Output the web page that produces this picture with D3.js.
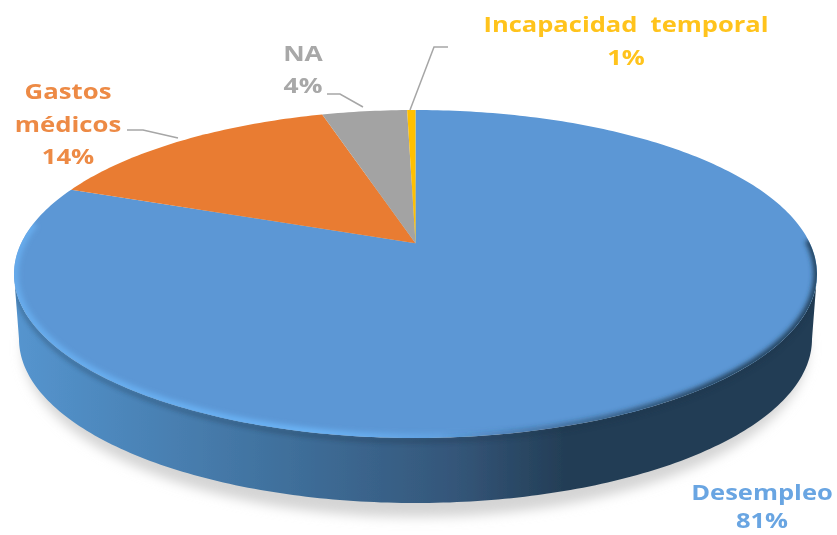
<!DOCTYPE html>
<html><head><meta charset="utf-8">
<script src="https://cdn.jsdelivr.net/npm/d3@7"></script>
<style>html,body{margin:0;padding:0;background:#fff}svg{display:block}
text{font-family:"Open Sans",sans-serif;font-weight:700;text-anchor:middle}</style></head>
<body><svg id="c" width="837" height="535"></svg>
<script>
const categories=["Desempleo","Gastos médicos","NA","Incapacidad  temporal"];
const sliceValues=[80.9,14.6,4.1,0.4];
const percentLabels=["81%","14%","4%","1%"];
const colors=["#5b97d5","#e97c30","#a3a3a3","#ffc000"];
const textColors=["#69a5e2","#ed8a45","#a8a8a8","#ffc31a"];
const tilt=0.187;

const svg=d3.select("#c"),defs=svg.append("defs");
const X=d3.scaleLinear().domain([-1,1]).range([14,817]);
const Y=d3.scaleLinear().domain([-1,1]).range([438,110]);
const pie=d3.pie().value(d=>d).sort(null).startAngle(0).endAngle(2*Math.PI);
const arcs=pie(sliceValues);

function project(a){
  const u=Math.sin(a),v=Math.cos(a),den=1+tilt*v;
  return [X(u*Math.sqrt(1-tilt*tilt)/den),Y((v+tilt)/den)];
}
const line=d3.line().curve(d3.curveLinear);
const apex=[X(0),Y(tilt)];
const slicePath=d=>{
  const n=Math.max(4,Math.ceil((d.endAngle-d.startAngle)*60));
  const pts=d3.range(n+1).map(i=>project(d.startAngle+(d.endAngle-d.startAngle)*i/n));
  return line([apex,...pts])+"Z";
};

const grad=defs.append("linearGradient").attr("id","side").attr("gradientUnits","userSpaceOnUse")
 .attr("x1",X(-1)).attr("x2",X(1)).attr("y1",0).attr("y2",0);
[[0,"#5595cf"],[0.17,"#4a82b5"],[0.36,"#3e6d98"],[0.55,"#345679"],[0.69,"#233d55"],[1,"#233d55"]]
 .forEach(s=>grad.append("stop").attr("offset",s[0]).attr("stop-color",s[1]));
const blur=(id,sd)=>defs.append("filter").attr("id",id).attr("filterUnits","userSpaceOnUse")
 .attr("x",-50).attr("y",-50).attr("width",937).attr("height",635)
 .append("feGaussianBlur").attr("stdDeviation",sd);
blur("shadow",6);blur("soft",2.4);blur("tx",0.6);blur("edge",0.5);

const ell=(g,cy,ry,rx,fill)=>g.append("ellipse").attr("cx",X(0)).attr("cy",cy).attr("rx",rx).attr("ry",ry).attr("fill",fill);
const topCy=Y(0),topRy=Y(-1)-Y(0),topRx=X(1)-X(0);
const depth=65,botRx=topRx-5;
ell(svg.append("g").attr("filter","url(#shadow)"),topCy+depth+9,topRy+5,botRx-4,"#d4d4d4");
const wall=d3.range(0,181).map(i=>{const t=Math.PI*i/180;return [X(0)+topRx*Math.cos(t),topCy+topRy*Math.sin(t)];})
 .concat(d3.range(180,-1,-1).map(i=>{const t=Math.PI*i/180;return [X(0)+botRx*Math.cos(t),topCy+depth+topRy*Math.sin(t)];}));
svg.append("path").attr("d",line(wall)+"Z").attr("fill","url(#side)").attr("filter","url(#edge)");
defs.append("clipPath").attr("id","wallclip").append("path").attr("d",line(wall)+"Z");
svg.append("g").attr("clip-path","url(#wallclip)").append("ellipse")
 .attr("cx",X(0)).attr("cy",topCy+2).attr("rx",topRx).attr("ry",topRy+1)
 .attr("fill","none").attr("stroke","#1d3347").attr("stroke-width",3).attr("opacity",.5).attr("filter","url(#soft)");
const face=svg.append("g").attr("filter","url(#edge)");
face.selectAll("path").data(arcs).join("path").attr("d",slicePath).attr("fill",(d,i)=>colors[i]);
defs.append("clipPath").attr("id","faceclip").append("ellipse")
 .attr("cx",X(0)).attr("cy",topCy).attr("rx",topRx).attr("ry",topRy);
const overlay=svg.append("g").attr("clip-path","url(#faceclip)");
const rimArc=(a,b)=>d3.range(a,b,2).map(i=>{const t=Math.PI*i/180;return [X(0)+topRx*Math.cos(t),topCy+topRy*Math.sin(t)];});
const stopsOf=(g,list)=>list.forEach(s=>g.append("stop").attr("offset",s[0]).attr("stop-color",s[1]).attr("stop-opacity",s[2]));
defs.append("linearGradient").attr("id","bev").attr("gradientUnits","userSpaceOnUse")
 .attr("x1",X(-1)).attr("x2",X(0.25)).attr("y1",0).attr("y2",0)
 .call(g=>stopsOf(g,[[0,"#6ab2f4",.75],[0.6,"#6ab2f4",1],[1,"#6ab2f4",0]]));
overlay.append("path").attr("d",line(rimArc(60,200))).attr("fill","none").attr("stroke","url(#bev)").attr("stroke-width",9).attr("filter","url(#soft)");
defs.append("linearGradient").attr("id","shd").attr("gradientUnits","userSpaceOnUse")
 .attr("x1",X(0.05)).attr("x2",X(0.75)).attr("y1",0).attr("y2",0)
 .call(g=>stopsOf(g,[[0,"#23405a",0],[1,"#23405a",1]]));
overlay.append("path").attr("d",line(rimArc(-12,88))).attr("fill","none").attr("stroke","url(#shd)").attr("stroke-width",7).attr("filter","url(#soft)");

const leaderPaths=[[[127,130],[143,130],[178,138]],[[327,94],[340,94],[363,107]],[[448,47],[434,47],[410,110]]];
svg.append("g").attr("fill","none").attr("stroke","#a6a6a6").attr("stroke-width",1.5)
 .selectAll("path").data(leaderPaths).join("path").attr("d",d=>line(d));

const labelRows=[
 {i:0,x:762,lines:[[categories[0],500],[percentLabels[0],528]],size:22,sx:1.16},
 {i:1,x:68,lines:[["Gastos",99],["médicos",132],[percentLabels[1],164]],size:22,sx:1.17},
 {i:2,x:303,lines:[[categories[2],61],[percentLabels[2],93]],size:22,sx:1.2},
 {i:3,x:626,lines:[[categories[3],32],[percentLabels[3],65]],size:22,sx:1.16}
];
const tg=svg.append("g").attr("filter","url(#tx)");
labelRows.forEach(r=>r.lines.forEach(([s,y])=>{
  tg.append("text").attr("transform",`translate(${r.x},${y}) scale(${r.sx},1)`)
   .style("white-space","pre").attr("font-size",r.size).attr("fill",textColors[r.i]).text(s);
}));
</script></body></html>
